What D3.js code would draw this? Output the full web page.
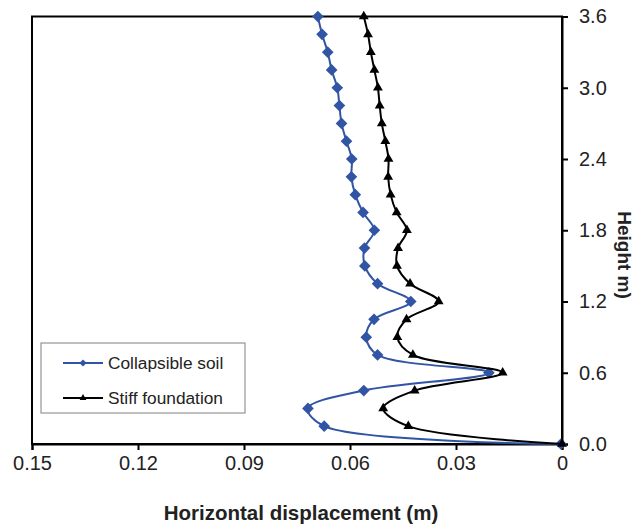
<!DOCTYPE html>
<html>
<head>
<meta charset="utf-8">
<script src="https://cdn.jsdelivr.net/npm/d3@7"></script>
<style>
  body { margin: 0; background: #fff; }
  svg { display: block; font-family: "Liberation Sans", Arial, sans-serif; }
</style>
</head>
<body>
<svg id="chart" width="637" height="526"></svg>
<script>
const heights = [0, 0.15, 0.3, 0.45, 0.6, 0.75, 0.9, 1.05, 1.2, 1.35, 1.5, 1.65, 1.8,
  1.95, 2.1, 2.25, 2.4, 2.55, 2.7, 2.85, 3.0, 3.15, 3.3, 3.45, 3.6];
const collapsible = [0.0003, 0.0673, 0.0719, 0.0561, 0.0207, 0.0522, 0.0554, 0.0532, 0.0428,
  0.0522, 0.0558, 0.0559, 0.0531, 0.0563, 0.0585, 0.0596, 0.0595, 0.061, 0.0624, 0.063,
  0.0636, 0.0652, 0.0663, 0.0679, 0.0691];
const stiff = [0, 0.0435, 0.0506, 0.0417, 0.0168, 0.0422, 0.0466, 0.044, 0.0349,
  0.043, 0.0467, 0.0464, 0.0439, 0.0468, 0.0485, 0.0492, 0.0491, 0.05, 0.051, 0.0516,
  0.0521, 0.0531, 0.0541, 0.0549, 0.0561];
const xTicks = [0.15, 0.12, 0.09, 0.06, 0.03, 0];
const yTicks = [0, 0.6, 1.2, 1.8, 2.4, 3.0, 3.6];

const series = [
  { name: "Collapsible soil", values: collapsible, color: "#3155a4", marker: "diamond" },
  { name: "Stiff foundation", values: stiff, color: "#000000", marker: "triangle" },
];

const svg = d3.select("#chart");
const plot = { left: 32, right: 562, top: 16.5, bottom: 444 };

const x = d3.scaleLinear().domain([0.15, 0]).range([plot.left, plot.right]);
const y = d3.scaleLinear().domain([0, 3.6]).range([plot.bottom, plot.top]);

// frame
svg.append("rect")
  .attr("x", plot.left)
  .attr("y", plot.top)
  .attr("width", plot.right - plot.left)
  .attr("height", plot.bottom - plot.top)
  .attr("fill", "none")
  .attr("stroke", "#000")
  .attr("stroke-width", 2);

const xAxis = svg.append("g")
  .attr("transform", `translate(0,${plot.bottom})`)
  .call(d3.axisBottom(x).tickValues(xTicks).tickSize(6).tickPadding(6)
    .tickFormat((d) => (d === 0 ? "0" : d3.format(".2f")(d))));

const yAxis = svg.append("g")
  .attr("transform", `translate(${plot.right},0)`)
  .call(d3.axisRight(y).tickValues(yTicks).tickSize(6).tickPadding(11)
    .tickFormat(d3.format(".1f")));

[xAxis, yAxis].forEach((axis) => {
  axis.select(".domain").attr("stroke-width", 2);
  axis.selectAll(".tick line").attr("stroke-width", 2);
  axis.selectAll(".tick text")
    .attr("font-size", 20)
    .attr("font-family", "Liberation Sans, Arial, sans-serif")
    .attr("fill", "#222");
});

const line = d3.line()
  .x((d) => x(d.v))
  .y((d) => y(d.h))
  .curve(d3.curveCatmullRom.alpha(0.5));

const diamond = d3.symbol().type(d3.symbolSquare).size(68)();
const triangle = d3.symbol().type(d3.symbolTriangle).size(42)();

series.forEach((s) => {
  const pts = heights.map((h, i) => ({ h, v: s.values[i] }));
  const g = svg.append("g");
  g.append("path")
    .attr("d", line(pts))
    .attr("fill", "none")
    .attr("stroke", s.color)
    .attr("stroke-width", 2);
  g.selectAll("path.marker")
    .data(pts)
    .join("path")
    .attr("class", "marker")
    .attr("d", s.marker === "diamond" ? diamond : triangle)
    .attr("transform", (d) => `translate(${x(d.v)},${y(d.h)})` + (s.marker === "diamond" ? " rotate(45)" : ""))
    .attr("fill", s.color);
});

// legend
const legend = svg.append("g").attr("transform", "translate(41,343)");
legend.append("rect")
  .attr("width", 204)
  .attr("height", 70)
  .attr("fill", "#fff")
  .attr("stroke", "#808080")
  .attr("stroke-width", 1);

const rows = legend.selectAll("g.row")
  .data(series)
  .join("g")
  .attr("class", "row")
  .attr("transform", (d, i) => `translate(0,${20 + i * 35})`);

rows.append("line")
  .attr("x1", 22).attr("x2", 62)
  .attr("stroke", (d) => d.color)
  .attr("stroke-width", 2);
rows.append("path")
  .attr("d", (d) => d.marker === "diamond"
    ? d3.symbol().type(d3.symbolSquare).size(26)()
    : d3.symbol().type(d3.symbolTriangle).size(20)())
  .attr("transform", (d) => "translate(42,0)" + (d.marker === "diamond" ? " rotate(45)" : ""))
  .attr("fill", (d) => d.color);
rows.append("text")
  .attr("x", 67)
  .attr("dy", "0.35em")
  .attr("font-size", 17.3)
  .attr("fill", "#222")
  .text((d) => d.name);

// axis titles
svg.append("text")
  .attr("x", 301)
  .attr("y", 520)
  .attr("text-anchor", "middle")
  .attr("font-size", 20.5)
  .attr("font-weight", "bold")
  .attr("fill", "#222")
  .text("Horizontal displacement (m)");

svg.append("text")
  .attr("transform", "translate(618,255) rotate(90)")
  .attr("text-anchor", "middle")
  .attr("font-size", 19)
  .attr("font-weight", "bold")
  .attr("fill", "#222")
  .text("Height m)");
</script>
</body>
</html>
